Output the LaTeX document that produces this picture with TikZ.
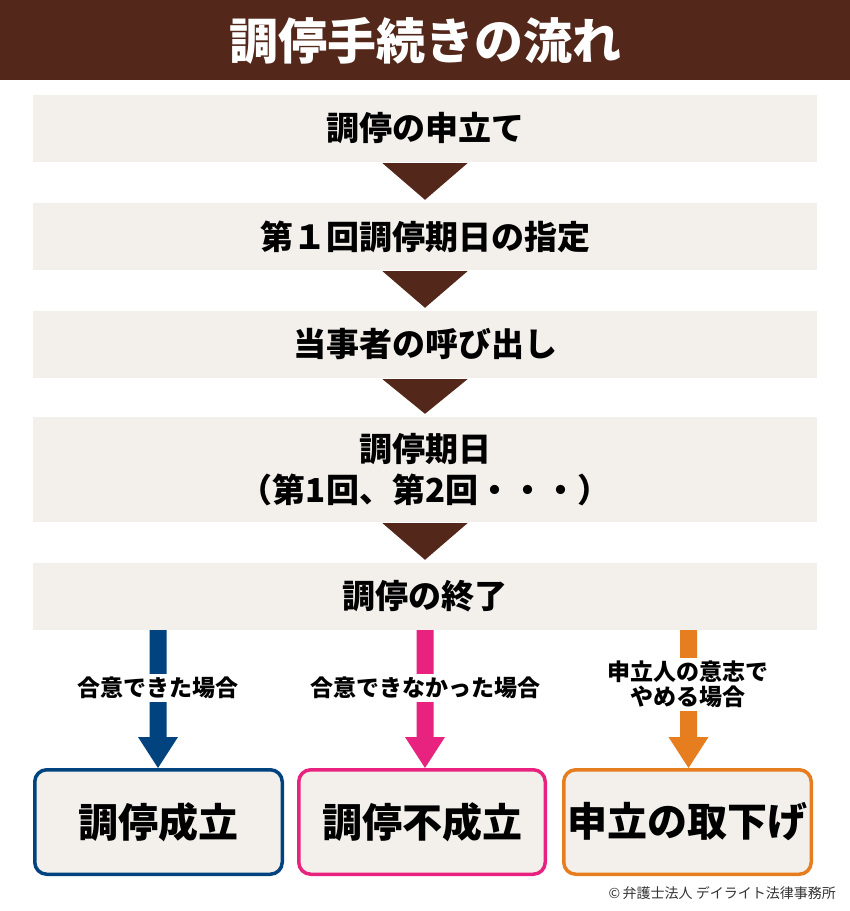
\documentclass[tikz,border=0pt]{standalone}
\usepackage{fontspec}
\setmainfont{Noto Sans CJK JP}
\usetikzlibrary{calc}
\definecolor{brownbar}{HTML}{53281A}
\definecolor{beige}{HTML}{F3EFEA}
\definecolor{cblue}{HTML}{00437F}
\definecolor{cpink}{HTML}{E8237F}
\definecolor{corange}{HTML}{E67E1F}
\definecolor{cgray}{HTML}{333333}
\tikzset{
  stepbox/.style={fill=beige, draw=none, inner sep=0pt, minimum width=784pt, align=center,
    font=\fontsize{33}{40}\selectfont\bfseries},
  endbox/.style={fill=beige, line width=3.5pt, rounded corners=12pt, inner sep=0pt,
    minimum height=104.5pt, font=\fontsize{40}{46}\selectfont\bfseries},
  caselabel/.style={fill=white, inner sep=3pt, align=center,
    font=\fontsize{23}{25}\selectfont\bfseries},
}
\newcommand{\flowtri}[2]{%
  \fill[brownbar] let \p1=(#1.south), \p2=(#2.north) in
    (\x1-42.5pt,\y1-1pt) -- (\x1+42.5pt,\y1-1pt) -- (\x1,\y2+3pt) -- cycle;}
\newcommand{\casearrow}[3]{%
  \fill[#1] let \p1=(#2), \p2=(#3) in
    (\x2-8.5pt,\y1) -- (\x2+8.5pt,\y1) -- (\x2+8.5pt,\y2+31pt) -- (\x2+20pt,\y2+31pt)
    -- (\x2,\y2) -- (\x2-20pt,\y2+31pt) -- (\x2-8.5pt,\y2+31pt) -- cycle;}
\begin{document}
\begin{tikzpicture}[x=1pt,y=-1pt]
\useasboundingbox (0,0) rectangle (850,911);
% title
\fill[brownbar] (0,0) rectangle (850,80);
\node (title) at (425,41) {\fontsize{49}{55}\selectfont\bfseries\color{white}調停手続きの流れ};
% steps
\node[stepbox, minimum height=67pt] (b1) at (425,128.5) {調停の申立て};
\node[stepbox, minimum height=67pt] (b2) at (425,236.5) {第１回調停期日の指定};
\node[stepbox, minimum height=67pt] (b3) at (425,344.5) {当事者の呼び出し};
\node[stepbox, minimum height=105pt, font=\fontsize{33}{41}\selectfont\bfseries] (b4) at (425,469.5) {調停期日\\（第1回、第2回・・・）};
\node[stepbox, minimum height=67pt] (b5) at (425,596.5) {調停の終了};
\flowtri{b1}{b2}
\flowtri{b2}{b3}
\flowtri{b3}{b4}
\flowtri{b4}{b5}
% end boxes
\node[endbox, draw=cblue, minimum width=247.5pt] (e1) at (158.5,822) {調停成立};
\node[endbox, draw=cpink, minimum width=246.5pt] (e2) at (422,822) {調停不成立};
\node[endbox, draw=corange, minimum width=247.5pt] (e3) at (687.5,822) {申立の取下げ};
% arrow coordinates
\coordinate (t1) at ($(e1.north)+(-0.5,0)$);
\coordinate (t2) at ($(e2.north)+(3,0)$);
\coordinate (t3) at ($(e3.north)+(1,0)$);
\casearrow{cblue}{b5.south}{t1}
\casearrow{cpink}{b5.south}{t2}
\casearrow{corange}{b5.south}{t3}
\node[caselabel] (l1) at (158,688) {合意できた場合};
\node[caselabel] (l2) at (425,688) {合意できなかった場合};
\node[caselabel] (l3) at (688,684.5) {申立人の意志で\\やめる場合};
% copyright
\node[anchor=east, inner sep=0pt, text=cgray, font=\fontsize{14}{16}\selectfont] (copy) at (836,893) {©\,弁護士法人 デイライト法律事務所};
\end{tikzpicture}
\end{document}
